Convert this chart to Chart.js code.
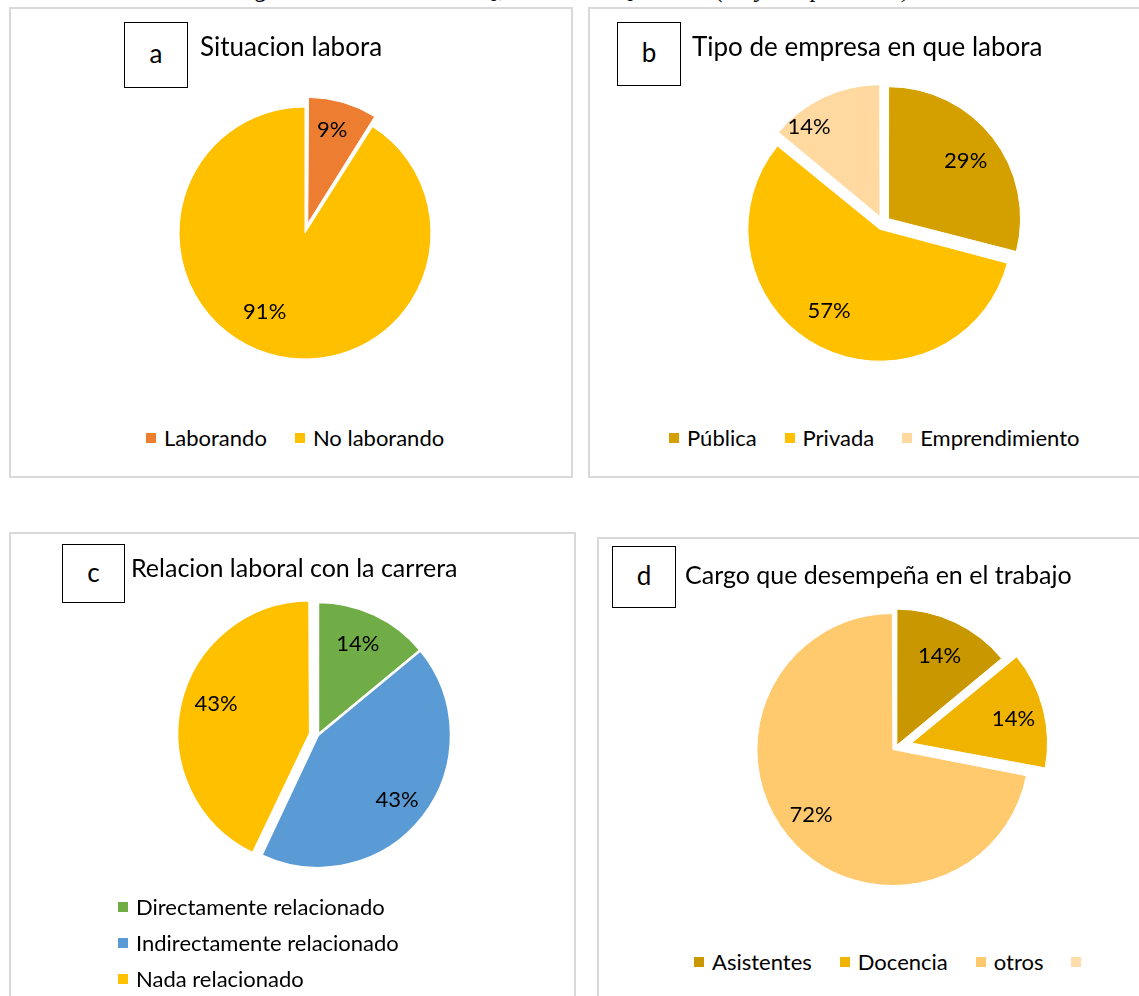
<!DOCTYPE html>
<html>
<head>
<meta charset="utf-8">
<script src="https://cdn.jsdelivr.net/npm/chart.js"></script>
<style>
  body { margin:0; width:1139px; height:996px; overflow:hidden; background:#fff; font-family:Lato, "Open Sans", sans-serif; color:#000; position:relative; }
  .pageTitle { position:absolute; left:0; top:-24px; font:italic 26px "Liberation Serif", serif; line-height:1; white-space:nowrap; }
  .panel { position:absolute; border:2px solid #d9d9d9; box-sizing:border-box; background:#fff; }
  .pie { position:absolute; }
  .tag { position:absolute; border:1.5px solid #000; box-sizing:border-box; background:#fff; display:flex; align-items:center; justify-content:center; font-size:26px; line-height:1; padding-bottom:4px; }
  .title { position:absolute; font-size:25px; line-height:1; white-space:nowrap; }
  .legend { position:absolute; display:flex; font-size:22px; line-height:22px; white-space:nowrap; }
  .legend.col { flex-direction:column; }
  .legend .item { display:flex; align-items:center; margin-right:28px; }
  .legend.col .item { height:36px; }
  .legend .key { width:10px; height:10px; margin-right:8px; }
</style>
</head>
<body>
<div class="pageTitle">Situación laboral de los graduados de la UTEQ, extensión Quevedo (mayo-septiembre)</div>

<div class="panel" style="left:9px;top:7px;width:564px;height:471px"></div>
<div class="panel" style="left:588px;top:7px;width:600px;height:471px"></div>
<div class="panel" style="left:9px;top:532px;width:567px;height:500px"></div>
<div class="panel" style="left:597px;top:537px;width:600px;height:500px"></div>

<canvas id="pieA" class="pie" width="360" height="360" style="left:125px;top:53px"></canvas>
<canvas id="pieB" class="pie" width="360" height="360" style="left:703px;top:43px"></canvas>
<canvas id="pieC" class="pie" width="360" height="360" style="left:138px;top:555px"></canvas>
<canvas id="pieD" class="pie" width="360" height="360" style="left:716px;top:567px"></canvas>

<div class="tag" style="left:124px;top:22px;width:64px;height:66px">a</div>
<div class="tag" style="left:617px;top:22px;width:64px;height:64px">b</div>
<div class="tag" style="left:62px;top:544px;width:63px;height:59px">c</div>
<div class="tag" style="left:612px;top:546px;width:64px;height:62px">d</div>

<div class="title" style="left:200px;top:33px;font-size:26px">Situacion labora</div>
<div class="title" style="left:692px;top:33px;font-size:26px">Tipo de empresa en que labora</div>
<div class="title" style="left:131px;top:555px">Relacion laboral con la carrera</div>
<div class="title" style="left:685px;top:562px">Cargo que desempeña en el trabajo</div>

<div id="legA" class="legend" style="left:146px;top:427px"></div>
<div id="legB" class="legend" style="left:669px;top:427px"></div>
<div id="legC" class="legend col" style="left:118px;top:889px"></div>
<div id="legD" class="legend" style="left:694px;top:951px"></div>

<script>
/* ============================ Data ============================ */
const catsA = ["Laborando", "No laborando"];
const pctA  = [9, 91];

const catsB = ["Pública", "Privada", "Emprendimiento"];
const pctB  = [29, 57, 14];

const catsC = ["Directamente relacionado", "Indirectamente relacionado", "Nada relacionado"];
const pctC  = [14, 43, 43];

const catsD = ["Asistentes", "Docencia", "otros", ""];
const pctD  = [14, 14, 72, 0];

/* ============================ Styles ============================ */
const colorsA = ["#ED7D31", "#FFC000"];
const colorsB = ["#D4A000", "#FFC000", "#FFD9A0"];
const colorsC = ["#70AD47", "#5B9BD5", "#FFC000"];
const colorsD = ["#C99700", "#F0B400", "#FFC96E", "#FFDDAA"];

/* ============================ Plugins ============================ */
// keep exploded slices on the same radius as the others
const evenRadius = {
    id: "evenRadius",
    beforeDatasetsDraw(chart) {
        const meta = chart.getDatasetMeta(0);
        const R = meta.controller.outerRadius;
        meta.data.forEach(arc => {
            const off = (arc.options.offset || 0) / 4;
            const circ = arc.endAngle - arc.startAngle;
            const fix = 1 - Math.sin(Math.min(Math.PI, circ));
            arc.outerRadius = R - off * fix;
        });
    }
};

// percentage labels inside the slices
const pctLabels = {
    id: "pctLabels",
    afterDatasetsDraw(chart, args, opts) {
        const ctx = chart.ctx;
        const meta = chart.getDatasetMeta(0);
        const vals = chart.data.datasets[0].data;
        const R = meta.controller.outerRadius;
        ctx.save();
        ctx.font = "22px Lato";
        ctx.fillStyle = "#000";
        ctx.textAlign = "center";
        ctx.textBaseline = "middle";
        meta.data.forEach((arc, i) => {
            if (!vals[i]) return;
            const mid = (arc.startAngle + arc.endAngle) / 2;
            const off = (arc.options.offset || 0) / 4;
            const [frac, da] = opts.place[i];
            const a = mid + da * Math.PI / 180;
            const x = arc.x + Math.cos(mid) * off + Math.cos(a) * frac * R;
            const y = arc.y + Math.sin(mid) * off + Math.sin(a) * frac * R;
            ctx.fillText(vals[i] + "%", x, y);
        });
        ctx.restore();
    }
};

/* ============================ Builders ============================ */
function makePie(id, cats, vals, colors, cfg) {
    return new Chart(document.getElementById(id), {
        type: "pie",
        data: {
            labels: cats,
            datasets: [{
                data: vals,
                backgroundColor: colors,
                borderColor: "#fff",
                borderWidth: cfg.border,
                offset: cfg.explode.map(d => d * 4)
            }]
        },
        options: {
            responsive: false,
            animation: false,
            events: [],
            radius: cfg.radius,
            layout: { padding: 0 },
            plugins: {
                legend: { display: false },
                tooltip: { enabled: false },
                pctLabels: { place: cfg.place }
            }
        },
        plugins: [evenRadius, pctLabels]
    });
}

function makeLegend(id, cats, colors) {
    const box = document.getElementById(id);
    cats.forEach((c, i) => {
        const item = document.createElement("div");
        item.className = "item";
        item.innerHTML = `<span class="key" style="background:${colors[i]}"></span><span>${c}</span>`;
        box.appendChild(item);
    });
}

/* ============================ Init ============================ */
makePie("pieA", catsA, pctA, colorsA, { radius: 126, border: 1, explode: [10, 0],
    place: [[0.77, -1.6], [0.70, 11]] });
makePie("pieB", catsB, pctB, colorsB, { radius: 132, border: 1, explode: [7, 7, 7],
    place: [[0.73, 1], [0.73, 4.8], [0.87, -13]] });
makePie("pieC", catsC, pctC, colorsC, { radius: 133, border: 2.5, explode: [0, 0, 8],
    place: [[0.75, -1.7], [0.77, 1.6], [0.74, 4.5]] });
makePie("pieD", catsD, pctD, colorsD, { radius: 136, border: 1, explode: [2, 16, 4, 0],
    place: [[0.73, 0.3], [0.77, 1.2], [0.77, 1], [0.7, 0]] });

makeLegend("legA", catsA, colorsA);
makeLegend("legB", catsB, colorsB);
makeLegend("legC", catsC, colorsC);
makeLegend("legD", catsD, colorsD);
</script>
</body>
</html>
